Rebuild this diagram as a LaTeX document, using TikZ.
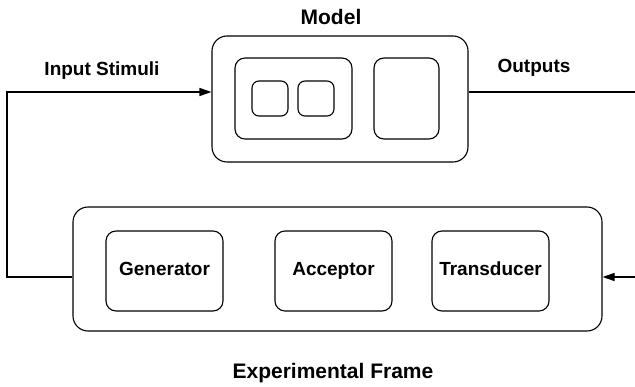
\documentclass[tikz,border=0pt]{standalone}
\usepackage{fontspec}
\newfontfamily\lblfont{Liberation Sans}
\usetikzlibrary{arrows.meta}
\begin{document}
\begin{tikzpicture}[x=1pt,y=-1pt,
  line width=1.1pt,
  box/.style={draw,rectangle,rounded corners=#1,inner sep=0pt},
  box/.default=10pt,
  lbl/.style={font=\lblfont\bfseries\fontsize{19}{22}\selectfont,inner sep=0pt},
  big/.style={font=\lblfont\bfseries\fontsize{21}{25}\selectfont,inner sep=0pt},
  unit/.style={box,lbl,minimum width=117pt,minimum height=80pt,text height=1em,text depth=0pt},
  tip/.style={-{Triangle[length=12pt,width=8pt]}}]
\useasboundingbox (0,0) rectangle (635,387);

% model with its components
\node[box=15pt,minimum width=256pt,minimum height=126pt] (model) at (340,99) {};
\node[box,minimum width=117pt,minimum height=81pt] (coupled) at (293.5,98.5) {};
\node[box=7pt,minimum width=36pt,minimum height=35pt] (atomA) at (270,98.5) {};
\node[box=7pt,minimum width=36pt,minimum height=35pt] (atomB) at (316,98.5) {};
\node[box,minimum width=65pt,minimum height=81pt] (atomC) at (406.5,98.5) {};

% experimental frame with its components
\node[box=15pt,minimum width=529pt,minimum height=124pt] (ef) at (337.5,269) {};
\node[unit] (gen) at (164.5,271) {Generator};
\node[unit] (acc) at (333.5,271) {Acceptor};
\node[unit] (trans) at (490.5,271) {Transducer};

% labels
\node[big,anchor=base] (mlabel) at (331,25) {Model};
\node[lbl,anchor=base] (inlabel) at (102,76) {Input Stimuli};
\node[lbl,anchor=base] (outlabel) at (534,73) {Outputs};
\node[big,anchor=base] (eflabel) at (333,379) {Experimental Frame};

% connectors
\coordinate (inLow) at (7,277);
\coordinate (inHigh) at (7,92);
\coordinate (outEnd) at (635,92);
\coordinate (fbStart) at (635,277);
\draw[tip] (ef.west |- inLow) -- (inLow) -- (inHigh) -- (model.west |- inHigh);
\draw (model.east |- outEnd) -- (outEnd);
\draw[tip] (fbStart) -- (ef.east |- fbStart);
\end{tikzpicture}
\end{document}
